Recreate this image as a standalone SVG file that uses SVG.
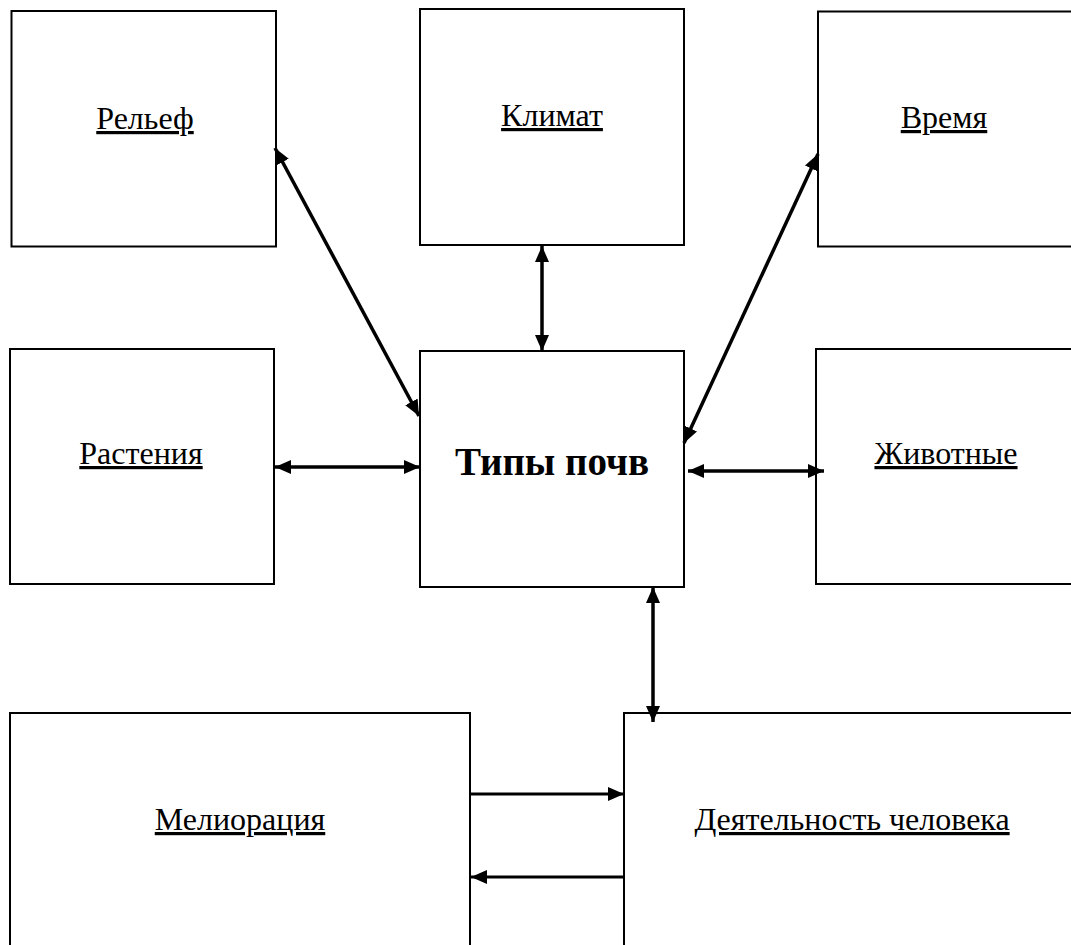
<svg xmlns="http://www.w3.org/2000/svg" width="1071" height="945" viewBox="0 0 1071 945">
<style>
.box{fill:#fff;stroke:#000;stroke-width:2}
.lbl{font-family:"Liberation Serif","Times New Roman",serif;font-size:32px;text-anchor:middle;text-decoration:underline;fill:#000}
.main{font-family:"Liberation Serif","Times New Roman",serif;font-size:39px;font-weight:bold;text-anchor:middle;fill:#000}
.c{stroke:#000;stroke-width:3.5;fill:none}
.c2{stroke:#000;stroke-width:2.8;fill:none}
</style>
<defs>
<marker id="ah" viewBox="0 0 16 14" refX="16" refY="7" markerWidth="16" markerHeight="14" markerUnits="userSpaceOnUse" orient="auto-start-reverse">
<path d="M0,0 L16,7 L0,14 Z" fill="#000"/>
</marker>
</defs>
<rect width="1071" height="945" fill="#fff"/>
<g id="relief"><rect class="box" x="11.5" y="11" width="264.5" height="235.5"/><text class="lbl" x="145" y="129">Рельеф</text></g>
<g id="climate"><rect class="box" x="420" y="9" width="264" height="236"/><text class="lbl" x="552" y="126">Климат</text></g>
<g id="time"><rect class="box" x="818" y="11.5" width="260" height="235"/><text class="lbl" x="944" y="128">Время</text></g>
<g id="plants"><rect class="box" x="10" y="349" width="264" height="235"/><text class="lbl" x="141" y="464">Растения</text></g>
<g id="soils"><rect class="box" x="420" y="351" width="264" height="236"/><text class="main" x="552" y="475">Типы почв</text></g>
<g id="animals"><rect class="box" x="816" y="349" width="262" height="235"/><text class="lbl" x="946" y="464">Животные</text></g>
<g id="melioration"><rect class="box" x="10" y="713" width="460" height="240"/><text class="lbl" x="240" y="830">Мелиорация</text></g>
<g id="human"><rect class="box" x="624" y="713" width="455" height="240"/><text class="lbl" x="852" y="830">Деятельность человека</text></g>
<g id="connectors">
<line class="c" x1="275" y1="148" x2="419" y2="416" marker-start="url(#ah)" marker-end="url(#ah)"/>
<line class="c" x1="542" y1="246" x2="542" y2="351" marker-start="url(#ah)" marker-end="url(#ah)"/>
<line class="c" x1="818" y1="154" x2="684" y2="443" marker-start="url(#ah)" marker-end="url(#ah)"/>
<line class="c" x1="275" y1="467" x2="420" y2="467" marker-start="url(#ah)" marker-end="url(#ah)"/>
<line class="c" x1="688" y1="471" x2="824" y2="471" marker-start="url(#ah)" marker-end="url(#ah)"/>
<line class="c" x1="653" y1="587" x2="653" y2="722" marker-start="url(#ah)" marker-end="url(#ah)"/>
<line class="c2" x1="470" y1="794" x2="624" y2="794" marker-end="url(#ah)"/>
<line class="c2" x1="624" y1="877" x2="471" y2="877" marker-end="url(#ah)"/>
</g>
</svg>
